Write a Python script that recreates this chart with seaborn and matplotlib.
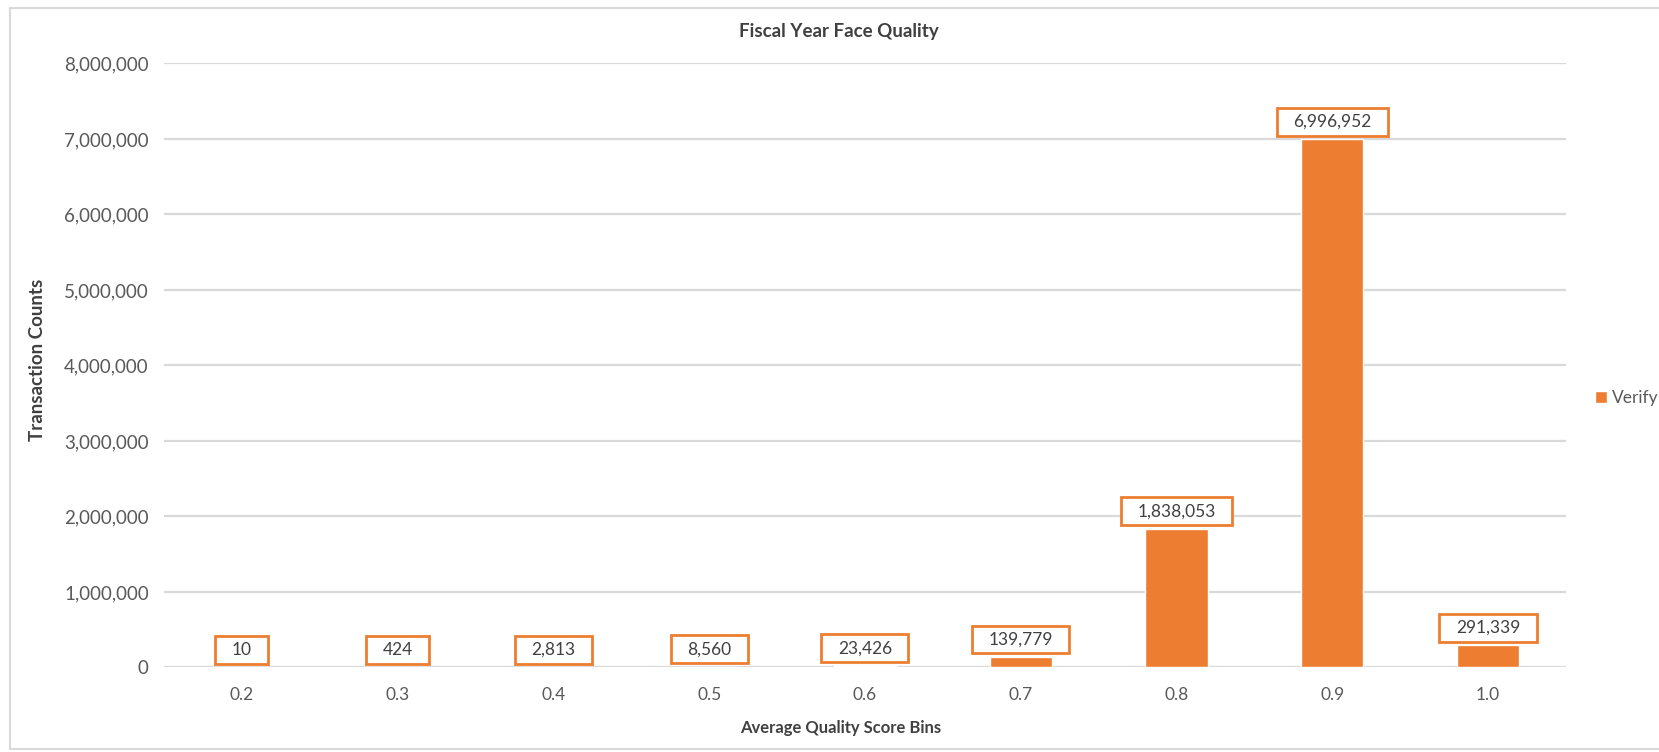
import matplotlib
matplotlib.use("Agg")
import matplotlib.pyplot as plt
import matplotlib.ticker as mticker
from matplotlib.lines import Line2D
import seaborn as sns
import pandas as pd

bins = ["0.2", "0.3", "0.4", "0.5", "0.6", "0.7", "0.8", "0.9", "1.0"]
counts = [10, 424, 2813, 8560, 23426, 139779, 1838053, 6996952, 291339]
series_name = "Verify"
y_ticks = [0, 1000000, 2000000, 3000000, 4000000, 5000000, 6000000, 7000000, 8000000]

ORANGE = "#ED7D31"
TXT = "#595959"
DARK = "#404040"
GRID = "#D9D9D9"

sns.set_theme(style="white")
plt.rcParams["font.family"] = ["Lato", "DejaVu Sans"]

df = pd.DataFrame({"bin": bins, "count": counts, "series": series_name})

W, H = 1568.0, 711.0  # layout reference frame
fig = plt.figure(figsize=(16.59, 7.52), dpi=100)
ax = fig.add_axes([155 / W, 1 - 631 / H, (1480 - 155) / W, (631 - 60) / H])

sns.barplot(data=df, x="bin", y="count", hue="series", palette=[ORANGE],
            width=0.4, ax=ax, saturation=1, legend=True)

ax.set_ylim(0, 8000000)
ax.set_xlim(-0.5, len(bins) - 0.5)
ax.set_yticks(y_ticks)
ax.yaxis.set_major_formatter(mticker.FuncFormatter(lambda v, p: f"{int(v):,}"))
ax.grid(axis="y", color=GRID, linewidth=1.6)
ax.set_axisbelow(True)
for s in ax.spines.values():
    s.set_visible(False)
ax.tick_params(axis="both", length=0, colors=TXT)
ax.tick_params(axis="x", pad=14, labelsize=12.5)
ax.tick_params(axis="y", pad=11, labelsize=13.5)
ax.set_xlabel("")
ax.set_ylabel("")

for i, v in enumerate(counts):
    ax.annotate(f"{v:,}", xy=(i, v), xytext=(0, 12.5), textcoords="offset points",
                ha="center", va="center", fontsize=12.5, color=DARK,
                bbox=dict(boxstyle="square,pad=0.95", mutation_aspect=0.36,
                          fc="white", ec=ORANGE, lw=2))

handles, labels = ax.get_legend_handles_labels()
ax.get_legend().remove()
leg = fig.legend(handles, labels, loc="center left",
                 bbox_to_anchor=(1581 / 1659, 1 - 398 / 752), frameon=False,
                 fontsize=12.5, handlelength=0.7, handleheight=0.7, handletextpad=0.3,
                 borderpad=0.3)
for t in leg.get_texts():
    t.set_color(TXT)

fig.text(793 / W, 1 - 30 / H, "Fiscal Year Face Quality", ha="center", va="center",
         fontsize=13.5, fontweight="bold", color=DARK)
fig.text(795 / W, 1 - 688 / H, "Average Quality Score Bins", ha="center", va="center",
         fontsize=12, fontweight="bold", color=DARK)
fig.text(35 / W, 1 - 340 / H, "Transaction Counts", ha="center", va="center",
         rotation=90, fontsize=13.5, fontweight="bold", color=DARK)

# chart-area border (left, top, bottom)
bx0, by0, by1 = 10 / 1659, 3 / 752, 1 - 8 / 752
for xs, ys in [([bx0, bx0], [by0, by1]), ([bx0, 1], [by1, by1]), ([bx0, 1], [by0, by0])]:
    fig.add_artist(Line2D(xs, ys, transform=fig.transFigure, color="#D9D9D9", lw=1.5))

fig.savefig("out.png", dpi=100)
